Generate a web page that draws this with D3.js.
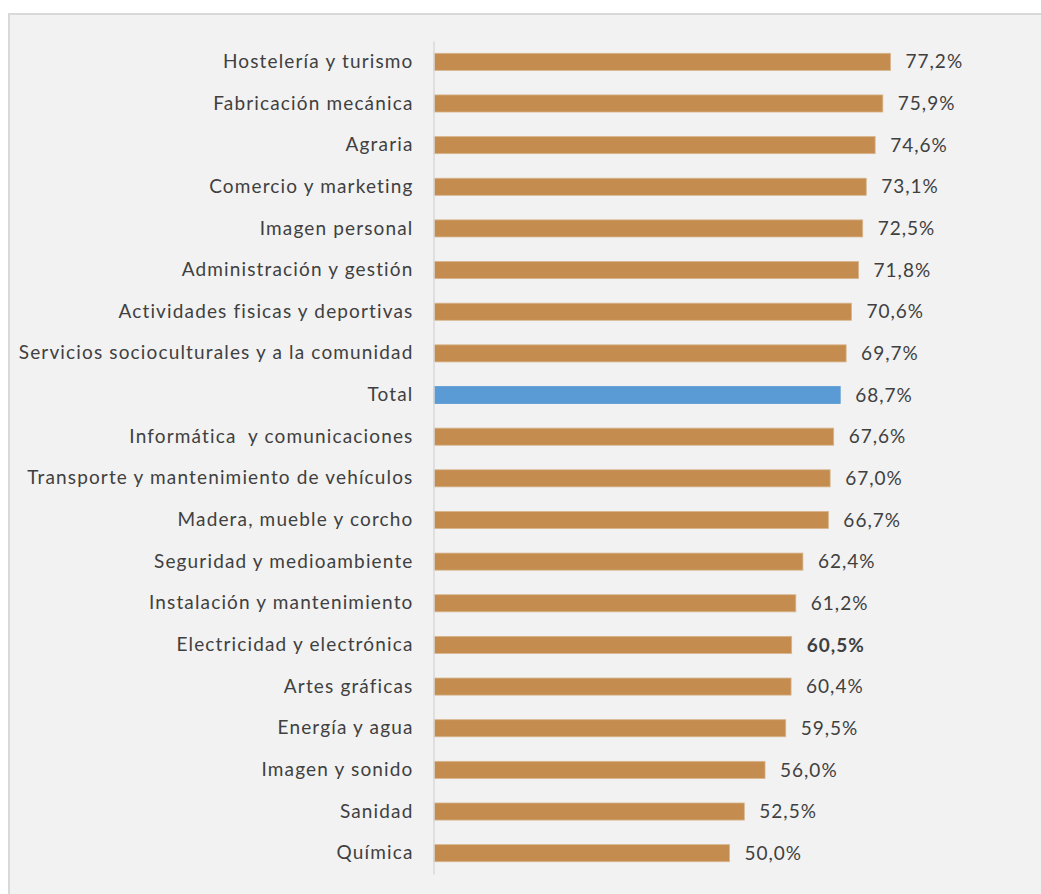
<!DOCTYPE html>
<html>
<head>
<meta charset="utf-8">
<script src="https://cdn.jsdelivr.net/npm/d3@7"></script>
<style>
  html, body { margin: 0; padding: 0; background: #ffffff; }
  svg { display: block; }
  text { font-family: Lato, "Open Sans", sans-serif; fill: #404040; white-space: pre; }
</style>
</head>
<body>
<svg id="chart" width="1041" height="894"></svg>
<script>
const categories = [
  "Hostelería y turismo",
  "Fabricación mecánica",
  "Agraria",
  "Comercio y marketing",
  "Imagen personal",
  "Administración y gestión",
  "Actividades fisicas y deportivas",
  "Servicios socioculturales y a la comunidad",
  "Total",
  "Informática  y comunicaciones",
  "Transporte y mantenimiento de vehículos",
  "Madera, mueble y corcho",
  "Seguridad y medioambiente",
  "Instalación y mantenimiento",
  "Electricidad y electrónica",
  "Artes gráficas",
  "Energía y agua",
  "Imagen y sonido",
  "Sanidad",
  "Química"
];
const values = [77.2, 75.9, 74.6, 73.1, 72.5, 71.8, 70.6, 69.7, 68.7, 67.6, 67.0, 66.7, 62.4, 61.2, 60.5, 60.4, 59.5, 56.0, 52.5, 50.0];
const highlightCategory = "Total";
const boldCategory = "Electricidad y electrónica";

const data = categories.map((c, i) => ({ cat: c, val: values[i] }));

const svg = d3.select("#chart");

// panel background and border
svg.append("rect")
  .attr("x", 9).attr("y", 14)
  .attr("width", 1041).attr("height", 894)
  .attr("fill", "#f2f2f2")
  .attr("stroke", "#d9d9d9")
  .attr("stroke-width", 2);

const x0 = 433.5;
const x = d3.scaleLinear().domain([0, 100]).range([x0, x0 + 592]);
const y = d3.scaleBand().domain(categories).range([41, 874]).paddingInner(0.59).paddingOuter(0.295);

// bars
svg.append("g").selectAll("rect")
  .data(data)
  .join("rect")
  .attr("x", x(0) + 0.5)
  .attr("y", d => y(d.cat))
  .attr("width", d => x(d.val) - x(0) - 0.5)
  .attr("height", y.bandwidth())
  .attr("fill", d => d.cat === highlightCategory ? "#5b9bd5" : "#c48c4e")
  .attr("stroke", d => d.cat === highlightCategory ? "#5b9bd5" : "#d7b58c")
  .attr("stroke-width", 0.8);

// axis line
const yAxis = d3.axisLeft(y).tickSize(0).tickPadding(20);
const gAxis = svg.append("g")
  .attr("transform", `translate(${x0},0)`)
  .call(yAxis);
gAxis.select(".domain").attr("stroke", "#d9d9d9").attr("stroke-width", 1.5);
gAxis.selectAll(".tick text")
  .attr("font-size", 19)
  .attr("font-family", "Lato, 'Open Sans', sans-serif")
  .attr("fill", "#404040")
  .attr("letter-spacing", 1.15);

// value labels
svg.append("g").selectAll("text")
  .data(data)
  .join("text")
  .attr("x", d => x(d.val) + 15)
  .attr("y", d => y(d.cat) + y.bandwidth() / 2)
  .attr("dy", "0.35em")
  .attr("font-size", 19)
  .attr("letter-spacing", 1.0)
  .attr("font-weight", d => d.cat === boldCategory ? "bold" : "normal")
  .text(d => d3.format(".1f")(d.val).replace(".", ",") + "%");
</script>
</body>
</html>
